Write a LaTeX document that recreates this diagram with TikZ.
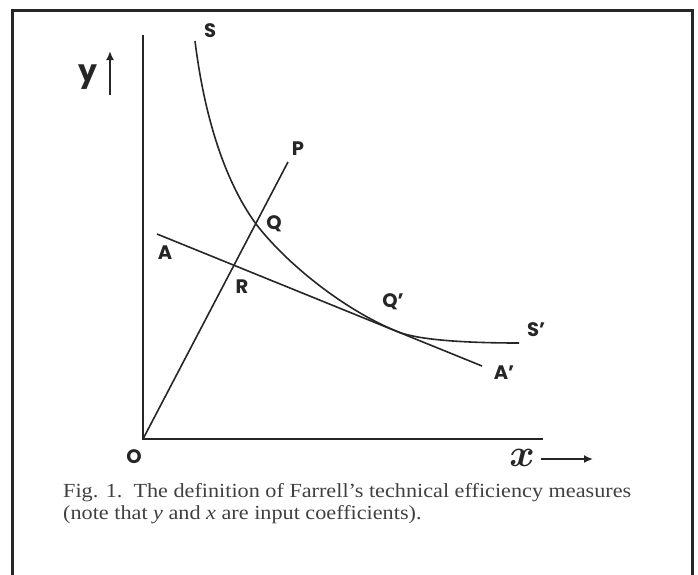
\documentclass[tikz,border=0pt]{standalone}
\usepackage{fontspec}
\usepackage{amsmath}
\setmainfont{Liberation Serif}
\newfontfamily\lettering{Poppins}
\usetikzlibrary{arrows.meta}
\begin{document}
\begin{tikzpicture}[x=1pt,y=-1pt,
  axis/.style={line width=1.8pt, black!85},
  curve/.style={line width=1.6pt, black!85},
  lbl/.style={font=\lettering\bfseries\fontsize{19.5}{20}\selectfont, text=black!85, inner sep=0pt},
  big/.style={font=\lettering\bfseries\fontsize{30}{30}\selectfont, text=black!85, inner sep=0pt},
  pointer/.style={line width=1.7pt, black!85, -{Latex[length=9pt,width=8pt]}},
  captext/.style={font=\fontsize{20}{24}\selectfont, text=black!75, inner sep=0pt, anchor=base west}
]
\useasboundingbox (0,0) rectangle (698,574);
\draw[line width=3pt, black!85] (12,580) -- (12,10) -- (692,10) -- (692,580);
% key points
\coordinate (O) at (143,439);
\coordinate (ytop) at (143,35);
\coordinate (xend) at (543,439);
\coordinate (P) at (288,162);
\coordinate (A) at (157,234);
\coordinate (A2) at (482,366);
\coordinate (S0) at (195,41);
\coordinate (Q) at (256,224);
\coordinate (T) at (398,331.8);
\coordinate (S2) at (519,343);
% axes
\draw[axis] (ytop) -- (O) -- (xend);
% ray OP and line AA'
\draw[curve] (O) -- (P);
\draw[curve] (A) -- (A2);
% isoquant SS'
\draw[curve] (S0) .. controls (203,106) and (221,176) .. (Q)
  .. controls (286,263) and (343,309.5) .. (T)
  .. controls (418,339.9) and (465,343) .. (S2);
% labels
\node[lbl] (lS) at (210,31) {S};
\node[lbl] (lP) at (298,149) {P};
\node[lbl] (lQ) at (274,224) {Q};
\node[lbl] (lA) at (165,253) {A};
\node[lbl] (lR) at (242,287) {R};
\node[lbl] (lQ2) at (390,302) {Q\rlap{’}};
\node[lbl] (lS2) at (533,330) {S\rlap{’}};
\node[lbl] (lA2) at (501,373) {A\rlap{’}};
\node[lbl] (lO) at (134,457) {O};
\node[inner sep=0pt, text=black!85, font=\fontsize{24}{24}\selectfont] (lx) at (522,458) {\scalebox{1.55}{$\boldsymbol{x}$}};
\node[big] (ly) at (88,77) {y};
% direction arrows
\coordinate (xa0) at (541,459);
\coordinate (xa1) at (593,459);
\draw[pointer] (xa0) -- (xa1);
\coordinate (ya0) at (110,95);
\coordinate (ya1) at (110,51);
\draw[pointer] (ya0) -- (ya1);
% caption
\node[captext] (cap1) at (63,497) {\scalebox{1.11}[1]{Fig. 1.\ \ The definition of Farrell’s technical efficiency measures}};
\node[captext] (cap2) at (63,519) {\scalebox{1.11}[1]{(note that \textit{y} and \textit{x} are input coefficients).}};
\end{tikzpicture}
\end{document}
